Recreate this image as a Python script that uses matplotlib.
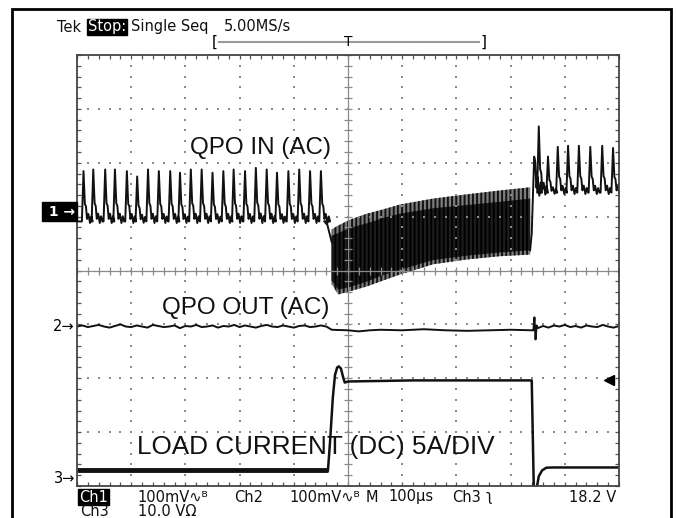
import matplotlib.pyplot as plt
import matplotlib.patches as patches
import matplotlib.transforms as transforms
import numpy as np

plt.rcParams['font.family'] = ['DejaVu Sans']
plt.rcParams['hatch.linewidth'] = 1.4

W, H = 676, 518

# ---- scope settings ----
time_per_div = 100          # us/div
n_xdiv, n_ydiv = 10, 8
ch1_scale, ch2_scale, ch3_scale = 100, 100, 5      # mV/div, mV/div, A/div
ch1_pos, ch2_pos, ch3_pos = 1.095, -1.04, -3.86    # ground marker, div
trig_level_v, ch3_v_per_div = 18.2, 10.0

# ---- CH1 : QPO IN (AC), mV ----
ch1_base_left = -18.5
spike_t_left = [12, 30, 52, 70, 92, 111, 131, 151, 172, 190, 210, 230,
                250, 270, 289, 310, 330, 350, 369, 390, 410, 430, 450]
spike_pk_left = [75, 78, 78, 78, 75, 65, 78, 75, 75, 72, 78, 78,
                 72, 75, 78, 75, 81, 78, 72, 75, 78, 75, 75]
# shape of one spike: offset (us), fraction of height above baseline
spike_dt = [-3, 0, 2.5, 4.5, 6.5, 9, 12, 14.5, 17]
spike_fr = [0, 1, 0.35, 0.30, 0.05, 0.15, -0.03, 0.10, 0]

# heavy ringing during load step
ring_t = [470, 482, 504, 535, 565, 596, 657, 720, 780, 836]
ring_top = [-33, -26, -15, -4, 4, 13, 24, 32, 39, 45]
ring_bot = [-135, -154, -148, -139, -128, -117, -98, -89, -83, -80]
core_top = [-45, -40, -30, -22, -12, -4, 6, 12, 18, 24]
core_bot = [-128, -145, -140, -130, -118, -108, -90, -82, -76, -72]

ch1_base_right = 35
spike_t_right = [841, 852, 869, 887, 906, 926, 947, 969, 989]
spike_pk_right = [226, 158, 102, 120, 122, 122, 120, 122, 118]

# ---- CH2 : QPO OUT (AC), mV ----
ch2_t_left = list(range(0, 470, 10))
ch2_v_left = [0, 2, -1, 1, 3, 0, -2, 1, 4, 0, -1, 2, 0, -2, 3, 1, -1, 0, 2, -3,
              1, 0, 3, -1, 0, 2, -2, 1, 0, 3, -1, 2, 0, -2, 1, 3, 0, -1, 2, 0,
              -2, 1, 2, -1, 0, 2, 0]
ch2_t_mid = [470, 500, 520, 540, 560, 600, 640, 680, 720, 760, 800, 840]
ch2_v_mid = [-6, -7, -9, -7, -6, -7, -5, -7, -8, -7, -6, -7]
ch2_t_right = [842, 844, 846, 848, 850, 860, 870, 880, 890, 900, 910, 920,
               930, 940, 950, 960, 970, 980, 990, 1000]
ch2_v_right = [-7, 17, -24, 2, -3, 1, -2, 2, 0, 3, -1, 1, -2, 2, 0, -1, 3, 0,
               -2, 1]

# ---- CH3 : LOAD CURRENT (DC), A ----
ch3_t = [0, 463, 467, 472, 476, 480, 483, 487, 491, 494, 500, 560, 620,
         700, 780, 839, 843, 849, 852, 858, 866, 880, 1000]
ch3_a = [0.74, 0.74, 3.5, 7.5, 9.6, 10.3, 10.4, 10.2, 9.4, 8.9, 9.0, 9.05,
         9.1, 9.1, 9.1, 9.1, -1.5, -0.65, 0.2, 0.74, 1.0, 1.02, 1.02]


def spike_train(times, peaks, base):
    ts, vs = [], []
    for t0, pk in zip(times, peaks):
        for dt, fr in zip(spike_dt, spike_fr):
            ts.append(t0 + dt)
            vs.append(base + fr * (pk - base))
    return ts, vs


def to_div(vals, pos, scale):
    return pos + np.asarray(vals, dtype=float) / scale


fig = plt.figure(figsize=(W / 100, H / 100), dpi=100)
ax = fig.add_axes([77 / W, (H - 486) / H, 542 / W, 431 / H])
x_max = time_per_div * n_xdiv
ax.set_xlim(0, x_max)
ax.set_ylim(-n_ydiv / 2, n_ydiv / 2)

# ---- graticule ----
for s in ax.spines.values():
    s.set_color('#444444')
    s.set_linewidth(1.3)
ax.set_xticks(np.arange(0, x_max + 1, time_per_div))
ax.set_xticks(np.arange(0, x_max + 1, time_per_div / 5), minor=True)
ax.set_yticks(np.arange(-4, 4.01, 1))
ax.set_yticks(np.arange(-4, 4.01, 0.2), minor=True)
ax.tick_params(which='both', direction='in', length=3, width=0.9,
               color='#555555', top=True, right=True,
               labelbottom=False, labelleft=False)

dot_kw = dict(ls='none', marker='s', ms=1.5, color='#8a8a8a', mew=0)
minor_x = np.arange(0, x_max + 1, time_per_div / 5)
minor_y = np.arange(-4, 4.01, 0.2)
for k in range(1, n_xdiv):
    if k != n_xdiv // 2:
        ax.plot(np.full(minor_y.size, k * time_per_div), minor_y, **dot_kw)
for j in range(-3, 4):
    if j != 0:
        ax.plot(minor_x, np.full(minor_x.size, j), **dot_kw)
ax.axhline(0, color='#8a8a8a', lw=0.9)
ax.axvline(x_max / 2, color='#8a8a8a', lw=0.9)
ax.plot(minor_x, np.zeros(minor_x.size), ls='none', marker='|', ms=6,
        color='#8a8a8a', mew=0.9)
ax.plot(np.full(minor_y.size, x_max / 2), minor_y, ls='none', marker='_',
        ms=6, color='#8a8a8a', mew=0.9)

# ---- CH1 ----
lt, lv = spike_train(spike_t_left, spike_pk_left, ch1_base_left)
lt = [0] + lt + [456, 462, ring_t[0]]
lv = [ch1_base_left] + lv + [-18, -25, -57]
ax.plot(lt, to_div(lv, ch1_pos, ch1_scale), color='#111111', lw=1.4)
ax.fill_between(ring_t, to_div(ring_top, ch1_pos, ch1_scale),
                to_div(ring_bot, ch1_pos, ch1_scale), facecolor='#7c7c7c',
                edgecolor='#111111', hatch='||||', lw=0)
ax.fill_between(ring_t, to_div(core_top, ch1_pos, ch1_scale),
                to_div(core_bot, ch1_pos, ch1_scale), facecolor='#1c1c1c',
                edgecolor='#000000', hatch='||||', lw=0)
rt, rv = spike_train(spike_t_right, spike_pk_right, ch1_base_right)
rt = [ring_t[-1], 839] + rt[2:] + [1000]
rv = [core_bot[-1], -40] + rv[2:] + [ch1_base_right]
ax.plot(rt, to_div(rv, ch1_pos, ch1_scale), color='#111111', lw=1.4)

# ---- CH2 ----
c2t = ch2_t_left + ch2_t_mid + ch2_t_right
c2v = ch2_v_left + ch2_v_mid + ch2_v_right
ax.plot(c2t, to_div(c2v, ch2_pos, ch2_scale), color='#111111', lw=1.4)

# ---- CH3 ----
ax.plot(ch3_t[:2], to_div(ch3_a[:2], ch3_pos, ch3_scale), color='#111111',
        lw=3.5, solid_capstyle='butt')
ax.plot(ch3_t[1:], to_div(ch3_a[1:], ch3_pos, ch3_scale), color='#111111',
        lw=1.8)

# ---- channel markers ----
blend = transforms.blended_transform_factory(ax.transAxes, ax.transData)
ax.text(-0.004, ch1_pos, ' 1 \u2192', transform=blend, ha='right',
        va='center', color='white', fontsize=10, fontweight='bold',
        clip_on=False,
        bbox=dict(boxstyle='square,pad=0.15', fc='black', ec='black'))
ax.text(-0.004, ch2_pos, '2\u2192', transform=blend, ha='right',
        va='center', fontsize=10.5, clip_on=False)
ax.text(-0.004, ch3_pos, '3\u2192', transform=blend, ha='right',
        va='center', fontsize=10.5, clip_on=False)
ax.plot([0.981], [ch3_pos + trig_level_v / ch3_v_per_div], marker='<',
        ms=7, color='black', transform=blend, clip_on=False)

# ---- annotations ----
lab_kw = dict(family='Liberation Sans', ha='center', va='center',
              color='#111111')
ax.text(338, 2.28, 'QPO IN (AC)', fontsize=17.5, **lab_kw)
ax.text(312, -0.70, 'QPO OUT (AC)', fontsize=17.5, **lab_kw)
ax.text(440, -3.28, 'LOAD CURRENT (DC) 5A/DIV', fontsize=18.8, **lab_kw)

# ---- status text ----
def px(x, y):
    return x / W, 1 - y / H


st = dict(fontsize=10.5, va='center', ha='left', color='#111111')
inv = dict(fontsize=10.5, va='center', ha='left', color='white',
           bbox=dict(boxstyle='square,pad=0.05', fc='black', ec='black'))
fig.text(*px(57, 27), 'Tek', **st)
fig.text(*px(88, 27), 'Stop:', **inv)
fig.text(*px(131, 27), 'Single Seq', **st)
fig.text(*px(224, 27), '5.00MS/s', **st)

rec_y = 1 + 13 / 431
ax.plot([0.262, 0.742], [rec_y, rec_y], color='#999999', lw=1.5,
        transform=ax.transAxes, clip_on=False)
ax.text(0.255, rec_y, '[', transform=ax.transAxes, ha='center',
        va='center', fontsize=11)
ax.text(0.75, rec_y, ']', transform=ax.transAxes, ha='center',
        va='center', fontsize=11)
ax.text(0.5, rec_y, 'T', transform=ax.transAxes, ha='center',
        va='center', fontsize=10)

fig.text(*px(79, 497), 'Ch1', **inv)
fig.text(*px(137, 497), '100mV\u223f\u1d2e', **st)
fig.text(*px(234, 497), 'Ch2', **st)
fig.text(*px(289, 497), '100mV\u223f\u1d2e', **st)
fig.text(*px(366, 497), 'M', **st)
fig.text(*px(388, 497), '100\u00b5s', **st)
fig.text(*px(452, 497), 'Ch3', **st)
fig.text(*px(486, 497), '\u0285', **st)
fig.text(*px(616, 497), '18.2 V', fontsize=10.5, va='center', ha='right',
         color='#111111')
fig.text(*px(80, 511), 'Ch3', **st)
fig.text(*px(138, 511), '10.0 V\u03a9', **st)

# ---- outer frame ----
fig.add_artist(patches.Rectangle((12 / W, -0.05), (671 - 12) / W,
                                 1.05 - 9 / H, transform=fig.transFigure,
                                 fill=False, ec='black', lw=2))

fig.savefig('out.png', dpi=100)
